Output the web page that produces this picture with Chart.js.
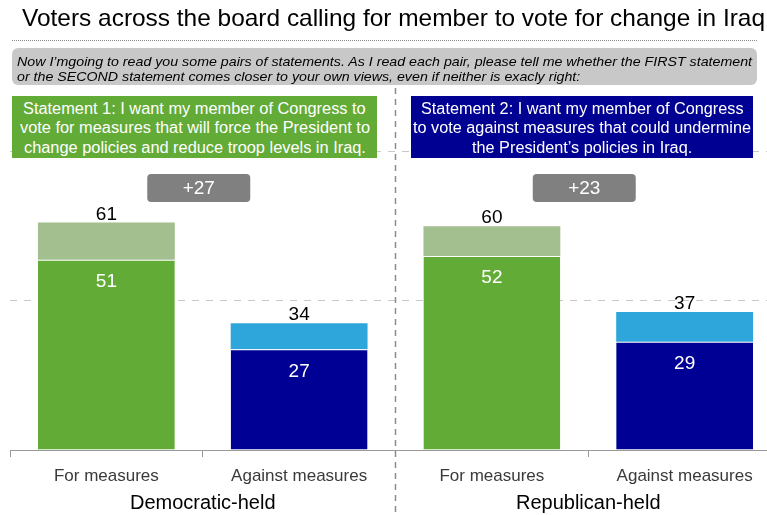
<!DOCTYPE html>
<html><head><meta charset="utf-8">
<script src="https://cdn.jsdelivr.net/npm/chart.js@4/dist/chart.umd.min.js"></script>
<style>
html,body{margin:0;padding:0;width:767px;height:515px;overflow:hidden;background:#fff;font-family:"Liberation Sans",Arial,sans-serif;}
#wrap{position:relative;width:767px;height:515px;overflow:hidden;}
#chart{position:absolute;left:0;top:0;}
.ln{position:absolute;white-space:nowrap;transform-origin:0 0;}
#title{position:absolute;left:0;top:0;width:767px;height:36px;}
#rule{position:absolute;left:12px;top:40px;width:745px;border-top:1px dotted #8a8a8a;}
#note{position:absolute;left:12px;top:48px;width:745px;height:37px;background:#c8c8c8;border-radius:6px;}
.stmt{position:absolute;top:96px;height:62px;color:#fff;}
#s1{left:12px;width:365px;background:#63ab37;}
#s2{left:411px;width:342px;background:#000092;}
</style></head>
<body><div id="wrap">
<canvas id="chart" width="790" height="515"></canvas>
<div id="title"></div>
<div id="rule"></div>
<div id="note"></div>
<div class="stmt" id="s1"></div>
<div class="stmt" id="s2"></div>
</div>
<script>
// ---- data ----
const titleText = 'Voters across the board calling for member to vote for change in Iraq';
const noteLines = [
  'Now I\u2019mgoing to read you some pairs of statements. As I read each pair, please tell me whether the FIRST statement',
  'or the SECOND statement comes closer to your own views, even if neither is exacly right:'
];
const statement1 = ['Statement 1: I want my member of Congress to','vote for measures that will force the President to','change policies and reduce troop levels in Iraq.'];
const statement2 = ['Statement 2: I want my member of Congress','to vote against measures that could undermine','the President\u2019s policies in Iraq.'];
const categories = ['For measures','Against measures','For measures','Against measures'];
const groupLabels = ['Democratic-held','Republican-held'];
const strongValues = [51,27,52,29];
const totalValues = [61,34,60,37];
const extraValues = totalValues.map((t,i)=>t-strongValues[i]);

// ---- html text ----
function addLines(parent, lines, opts){
  const spans = lines.map(t=>{const d=document.createElement('div');d.className='ln';d.textContent=t;
    d.style.font=opts.font;d.style.color=opts.color;d.style.lineHeight=opts.lh+'px';parent.appendChild(d);return d;});
  const maxW = Math.max(...spans.map(s=>s.getBoundingClientRect().width));
  const k = opts.target / maxW;
  spans.forEach((s,i)=>{
    const w = s.getBoundingClientRect().width*k;
    s.style.transform='scaleX('+k+')';
    s.style.left = (opts.align==='center' ? (opts.cx - w/2) : opts.left)+'px';
    s.style.top = (opts.top + i*opts.lh)+'px';
  });
}
addLines(document.getElementById('title'), [titleText], {font:'24px "Liberation Sans", Arial, sans-serif', color:'#000', lh:28, target:743, left:22, top:4});
addLines(document.getElementById('note'), noteLines, {font:'italic 13px "Liberation Sans", Arial, sans-serif', color:'#000', lh:15, target:735, left:5, top:6});
addLines(document.getElementById('s1'), statement1, {font:'16px "Liberation Sans", Arial, sans-serif', color:'#fff', lh:19.5, target:350, align:'center', cx:182.5, top:2.5});
addLines(document.getElementById('s2'), statement2, {font:'16px "Liberation Sans", Arial, sans-serif', color:'#fff', lh:19.5, target:338, align:'center', cx:171, top:2.5});

// ---- chart ----
const GREEN='#63ab37', LGREEN='#a3be8f', BLUE='#000094', LBLUE='#2ea6dc';
const FONT='"Liberation Sans", Arial, sans-serif';

const overlay = {
  id:'overlay',
  beforeDatasetsDraw(chart){
    const {ctx} = chart;
    const m = chart.getDatasetMeta(0);
    const x = (m.data[1].x + m.data[2].x)/2;
    ctx.save();
    ctx.strokeStyle='#8c8c8c'; ctx.lineWidth=1.5; ctx.setLineDash([6,5]);
    ctx.beginPath(); ctx.moveTo(x,88); ctx.lineTo(x,515); ctx.stroke();
    ctx.restore();
  },
  afterDatasetsDraw(chart){
    const {ctx, chartArea} = chart;
    const m0 = chart.getDatasetMeta(0), m1 = chart.getDatasetMeta(1);
    ctx.save();
    ctx.textAlign='center'; ctx.textBaseline='middle';
    ctx.font='19px '+FONT;
    for(let i=0;i<categories.length;i++){
      const b0=m0.data[i], b1=m1.data[i];
      ctx.fillStyle='#fff';
      ctx.fillText(String(strongValues[i]), b0.x, b0.y+22);
      ctx.fillStyle='#000';
      ctx.fillText(String(totalValues[i]), b1.x, b1.y-8);
    }
    for(let g=0; g<groupLabels.length; g++){
      const i=2*g, j=2*g+1;
      const cx=(m0.data[i].x+m0.data[j].x)/2 - 4;
      const top=chartArea.top+97, w=103, h=28;
      ctx.fillStyle='#808080';
      ctx.beginPath(); ctx.roundRect(cx-w/2, top, w, h, 4); ctx.fill();
      ctx.fillStyle='#fff'; ctx.font='19px '+FONT;
      const d = totalValues[i]-totalValues[j];
      ctx.fillText((d>0?'+':'')+d, cx, top+h/2+1);
      ctx.fillStyle='#000'; ctx.font='20px '+FONT;
      ctx.fillText(groupLabels[g], (m0.data[i].x+m0.data[j].x)/2, 503);
    }
    ctx.restore();
  }
};

new Chart(document.getElementById('chart'), {
  type:'bar',
  data:{
    labels: categories,
    datasets:[
      {label:'Strong', data: strongValues,
       backgroundColor: c=> c.dataIndex%2 ? BLUE : GREEN,
       borderColor:'#ffffff', borderWidth:{top:1,left:0,right:0,bottom:0}, borderSkipped:false},
      {label:'Total', data: extraValues,
       backgroundColor: c=> c.dataIndex%2 ? LBLUE : LGREEN, borderWidth:0}
    ]
  },
  options:{
    responsive:false, devicePixelRatio:1, animation:false,
    layout:{padding:{top:77,left:10,right:9,bottom:0}},
    datasets:{bar:{categoryPercentage:1, barPercentage:0.71}},
    plugins:{legend:{display:false}, tooltip:{enabled:false}},
    scales:{
      x:{stacked:true, offset:true,
         grid:{display:true, drawOnChartArea:false, drawTicks:true, tickLength:7, color:'#9a9a9a', offset:true},
         border:{display:true, color:'#9a9a9a', width:1},
         ticks:{color:'#3a3a3a', font:{family:FONT, size:17}, padding:9, maxRotation:0, autoSkip:false},
         afterFit: s=>{ s.height=65; }},
      y:{stacked:true, min:0, max:100,
         ticks:{display:false, stepSize:20},
         grid:{drawTicks:false, lineWidth:1, color: c=> (c.tick && (c.tick.value===40||c.tick.value===80)) ? '#c8c8c8' : 'rgba(0,0,0,0)'},
         border:{display:false, dash:[7,7]},
         afterFit: s=>{ s.width=0; }}
    }
  },
  plugins:[overlay]
});
</script>
</body></html>
